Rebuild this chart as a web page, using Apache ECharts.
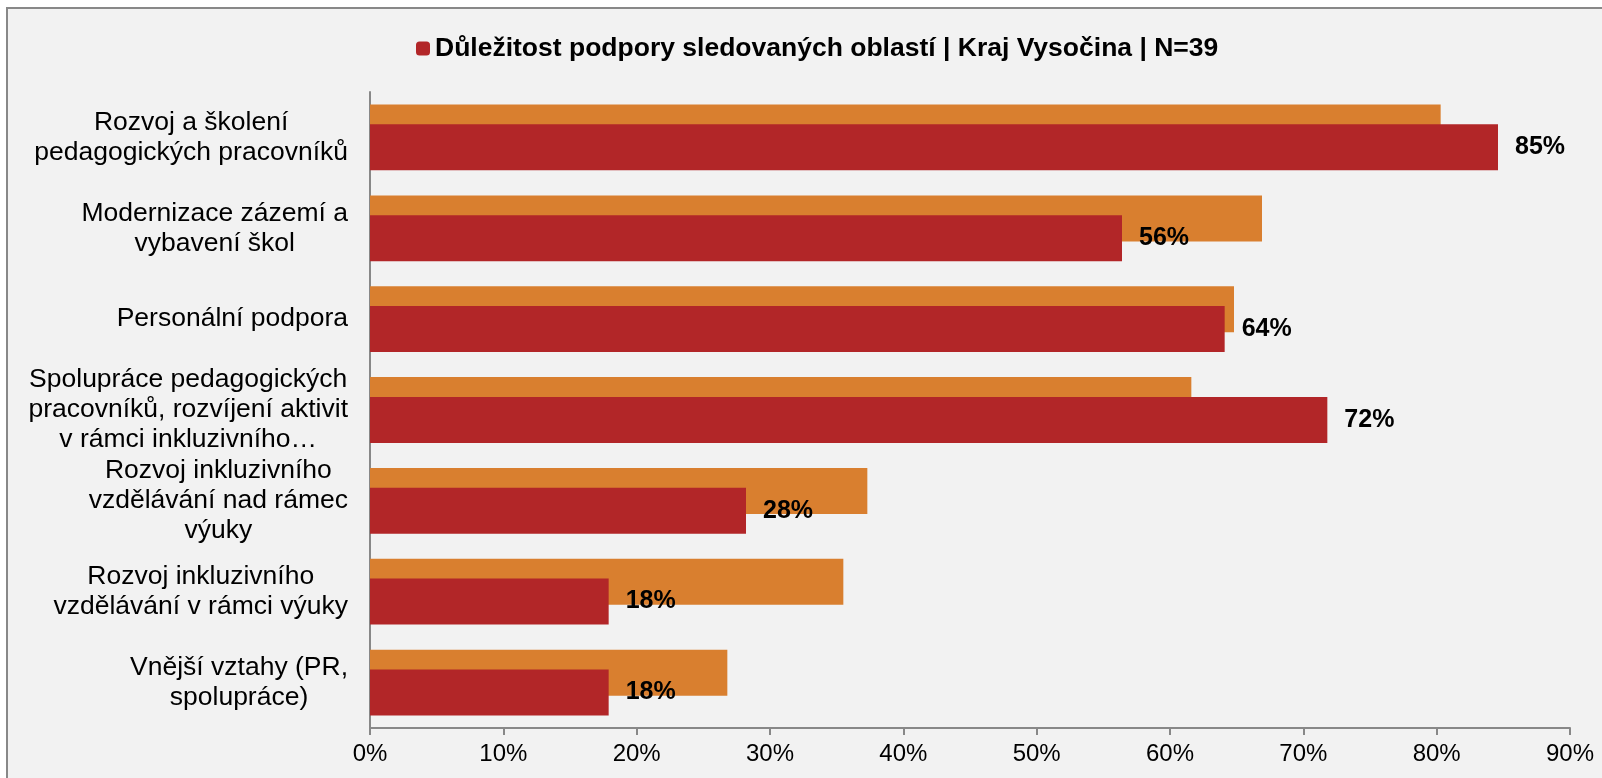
<!DOCTYPE html>
<html>
<head>
<meta charset="utf-8">
<script src="https://cdn.jsdelivr.net/npm/echarts@6/dist/echarts.min.js"></script>
<style>
  html, body { margin: 0; padding: 0; background: #fff; }
  #chart { width: 1602px; height: 778px; }
</style>
</head>
<body>
<div id="chart"></div>
<script>
  // kategorie shora dolu
  var categories = [
    'Rozvoj a školení\npedagogických pracovníků',
    'Modernizace zázemí a\nvybavení škol',
    'Personální podpora',
    'Spolupráce pedagogických\npracovníků, rozvíjení aktivit\nv rámci inkluzivního…',
    'Rozvoj inkluzivního\nvzdělávání nad rámec\nvýuky',
    'Rozvoj inkluzivního\nvzdělávání v rámci výuky',
    'Vnější vztahy (PR,\nspolupráce)'
  ];
  var seriesName = 'Důležitost podpory sledovaných oblastí | Kraj Vysočina | N=39';
  var vysocina = [84.6, 56.4, 64.1, 71.8, 28.2, 17.9, 17.9];
  var srovnani = [80.3, 66.9, 64.8, 61.6, 37.3, 35.5, 26.8];
  var xTicks = [0, 90, 10]; // min, max, interval

  var chart = echarts.init(document.getElementById('chart'));
  chart.setOption({
    backgroundColor: '#fff',
    textStyle: { fontFamily: 'Liberation Sans, Arial, sans-serif' },
    graphic: [{
      type: 'rect',
      z: -10,
      shape: { x: 7, y: 8, width: 1600, height: 800 },
      style: { fill: '#f2f2f2', stroke: '#888', lineWidth: 2 }
    }],
    legend: {
      data: [seriesName],
      left: 411,
      top: 30,
      itemWidth: 14,
      itemHeight: 14,
      itemGap: 4,
      textStyle: { fontSize: 26.5, fontWeight: 'bold', color: '#000' }
    },
    grid: { left: 370, right: 32, top: 92, bottom: 50 },
    xAxis: {
      type: 'value',
      min: xTicks[0],
      max: xTicks[1],
      interval: xTicks[2],
      splitLine: { show: false },
      axisLine: { show: true, lineStyle: { color: '#888', width: 2 } },
      axisTick: { show: true, length: 7, lineStyle: { color: '#888', width: 2 } },
      axisLabel: { formatter: '{value}%', fontSize: 24, color: '#000', margin: 14 }
    },
    yAxis: {
      type: 'category',
      inverse: true,
      data: categories,
      axisLine: { lineStyle: { color: '#888', width: 2 } },
      axisTick: { length: 7, lineStyle: { color: '#888', width: 2 } },
      axisLabel: {
        margin: 22,
        fontSize: 26.5,
        color: '#000',
        lineHeight: 30,
        formatter: function (v) {
          return v.split('\n').map(function (s) { return '{c|' + s + '}'; }).join('\n');
        },
        rich: { c: { align: 'center', fontSize: 26.5, lineHeight: 30, color: '#000' } }
      }
    },
    series: [
      {
        name: 'Srovnání',
        type: 'bar',
        data: srovnani,
        barWidth: 46,
        barGap: '-57%',
        itemStyle: { color: '#D97F2F' }
      },
      {
        name: seriesName,
        type: 'bar',
        data: vysocina,
        barWidth: 46,
        barGap: '-57%',
        itemStyle: { color: '#B22628' },
        label: {
          show: true,
          position: 'right',
          distance: 17,
          fontSize: 25,
          fontWeight: 'bold',
          color: '#000',
          formatter: function (p) { return Math.round(p.value) + '%'; }
        }
      }
    ]
  });
</script>
</body>
</html>
